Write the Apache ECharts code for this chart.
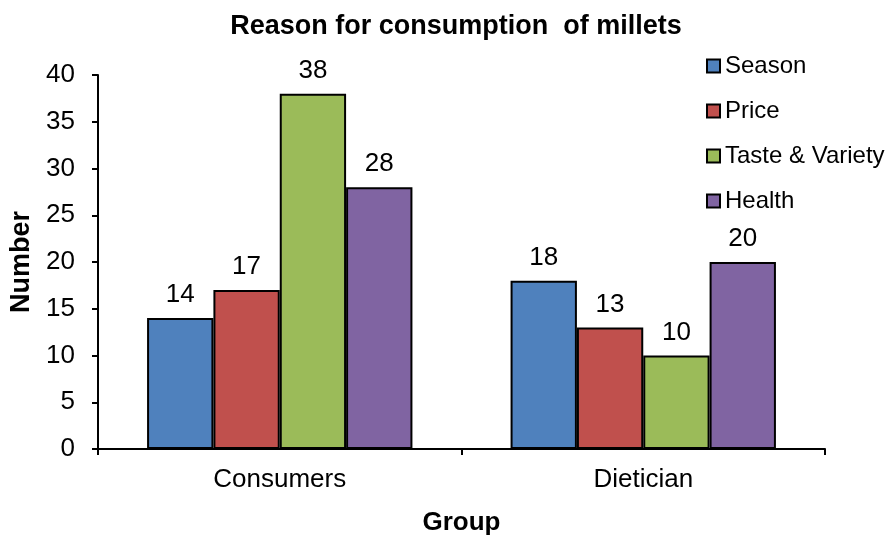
<html>
<head>
<meta charset="utf-8">
<title>Reason for consumption of millets</title>
<script src="https://cdn.jsdelivr.net/npm/echarts@6/dist/echarts.min.js"></script>
</head>
<body style="margin:0;background:#fff">
<div id="main" style="width:890px;height:535px;"></div>
<script>
var groups = ['Consumers', 'Dietician'];
var seriesNames = ['Season', 'Price', 'Taste & Variety', 'Health'];
var season = [14, 18];
var price = [17, 13];
var taste = [38, 10];
var health = [28, 20];
var colors = ['#4F81BD', '#C0504D', '#9BBB59', '#8064A2'];

var chart = echarts.init(document.getElementById('main'));
var font = 'Liberation Sans, Arial, sans-serif';

function bar(name, data, i) {
    return {
        name: name,
        type: 'bar',
        data: data,
        barGap: '0%',
        barCategoryGap: '27%',
        itemStyle: { color: colors[i], borderColor: '#000', borderWidth: 2 },
        label: { show: true, position: 'top', distance: 10, color: '#000', fontSize: 26, fontFamily: font },
        emphasis: { disabled: true }
    };
}

chart.setOption({
    animation: false,
    title: {
        text: 'Reason for consumption  of millets',
        left: 451, top: 8, textAlign: 'center',
        textStyle: { fontSize: 27, fontWeight: 'bold', color: '#000', fontFamily: font }
    },
    legend: {
        orient: 'vertical',
        left: 701, top: 49,
        itemWidth: 13, itemHeight: 13, itemGap: 21,
        icon: 'rect',
        textStyle: { fontSize: 24, color: '#000', fontFamily: font },
        itemStyle: { borderColor: '#000', borderWidth: 2 },
        data: seriesNames
    },
    grid: { left: 98, right: 65, top: 75, bottom: 86, outerBoundsMode: 'none' },
    xAxis: {
        type: 'category',
        data: groups,
        name: 'Group', nameLocation: 'middle', nameGap: 61,
        nameTextStyle: { fontSize: 26, fontWeight: 'bold', color: '#000', fontFamily: font },
        axisLine: { lineStyle: { color: '#000', width: 2 } },
        axisTick: { show: true, length: 6, lineStyle: { color: '#000', width: 2 } },
        axisLabel: { fontSize: 26, color: '#000', fontFamily: font, margin: 18 }
    },
    yAxis: {
        type: 'value',
        min: 0, max: 40, interval: 5,
        name: 'Number', nameLocation: 'middle', nameGap: 57, nameRotate: 90,
        nameTextStyle: { fontSize: 27, fontWeight: 'bold', color: '#000', fontFamily: font },
        axisLine: { show: true, lineStyle: { color: '#000', width: 2 } },
        axisTick: { show: true, length: 6, lineStyle: { color: '#000', width: 2 } },
        axisLabel: { fontSize: 26, color: '#000', fontFamily: font, margin: 23 },
        splitLine: { show: false }
    },
    series: [
        bar(seriesNames[0], season, 0),
        bar(seriesNames[1], price, 1),
        bar(seriesNames[2], taste, 2),
        bar(seriesNames[3], health, 3)
    ]
});
</script>
</body>
</html>
